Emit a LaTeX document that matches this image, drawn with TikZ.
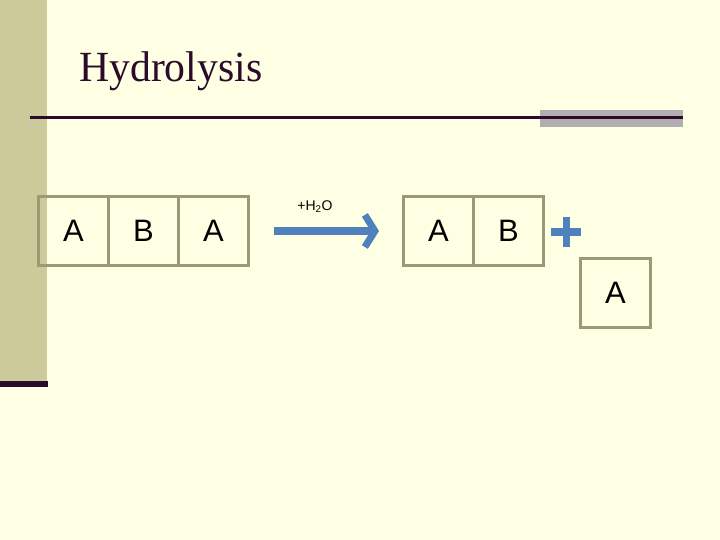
\documentclass[tikz,border=0pt]{standalone}
\usepackage{fontspec}
\setmainfont{Liberation Serif}
\newfontfamily\boxfont{Liberation Sans}
\usetikzlibrary{arrows.meta}
\definecolor{bg}{HTML}{FFFFE3}
\definecolor{sidebar}{HTML}{CCC99A}
\definecolor{darkpurple}{HTML}{2B0A2B}
\definecolor{graybar}{HTML}{B1ADB1}
\definecolor{boxline}{HTML}{9A9A78}
\definecolor{arrowblue}{HTML}{4F81BD}
\tikzset{
  cell/.style={draw=boxline, line width=2.6pt, minimum width=70pt, minimum height=69pt, inner sep=0pt, outer sep=0pt, font=\boxfont\fontsize{31}{31}\selectfont, anchor=north west},
}
\begin{document}
\begin{tikzpicture}[x=1pt,y=-1pt]
\useasboundingbox (0,0) rectangle (720,540);
\fill[bg] (0,0) rectangle (720,540);
\fill[sidebar] (0,0) rectangle (47,381);
\fill[darkpurple] (0,381) rectangle (48,387);
\node[anchor=base west, inner sep=0pt, text=darkpurple, font=\fontsize{43}{43}\selectfont, xscale=0.97] (title) at (79,82) {Hydrolysis};
\fill[graybar] (540,110) rectangle (683,127);
\coordinate (lineL) at (30,117.5);
\coordinate (lineR) at (683,117.5);
\draw[darkpurple, line width=3pt] (lineL) -- (lineR);
% left boxes
\node[cell] (a1) at (38.5,196.5) {A};
\node[cell] (b1) at (108.5,196.5) {B};
\node[cell] (a2) at (178.5,196.5) {A};
% arrow
\coordinate (arS) at (274,231);
\coordinate (arE) at (379,231);
\draw[arrowblue, line width=7pt, -{Straight Barb[length=10pt,width=32pt,line width=7pt]}] (arS) -- (arE);
\node[font=\boxfont\fontsize{14}{14}\selectfont, inner sep=0pt] (water) at (315,207) {+H\textsubscript{2}O};
% right boxes
\node[cell] (a3) at (403.5,196.5) {A};
\node[cell] (b2) at (473.5,196.5) {B};
\node[cell] (a4) at (580.5,258.5) {A};
% plus
\coordinate (plusC) at (566,232);
\draw[arrowblue, line width=7pt] ([xshift=-15pt]plusC) -- ([xshift=15pt]plusC);
\draw[arrowblue, line width=7pt] ([yshift=-15pt]plusC) -- ([yshift=15pt]plusC);
\end{tikzpicture}
\end{document}
